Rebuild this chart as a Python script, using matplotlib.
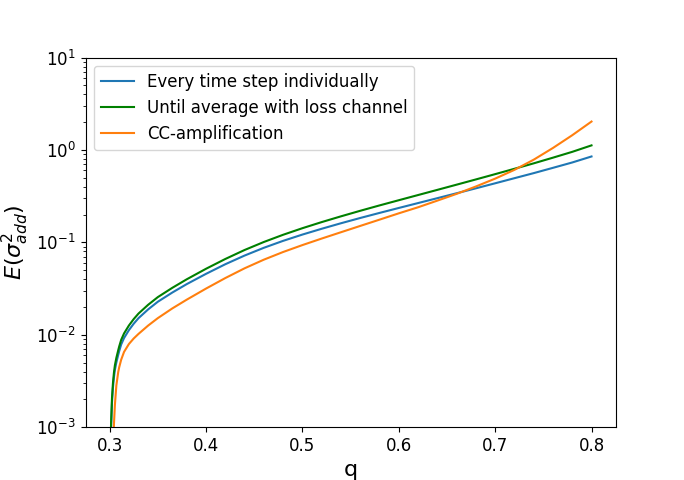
import numpy as np
import matplotlib.pyplot as plt

# q-Werte
q = [0.3005, 0.3015, 0.3025, 0.3035, 0.3045, 0.3055, 0.307, 0.309, 0.310, 0.312,
     0.315, 0.320, 0.325, 0.330, 0.340, 0.350, 0.365, 0.380, 0.400, 0.420,
     0.440, 0.460, 0.480, 0.500, 0.520, 0.540, 0.560, 0.580, 0.600, 0.620,
     0.640, 0.660, 0.680, 0.700, 0.720, 0.740, 0.760, 0.780, 0.800]

# Every time step individually
e_step = [2.24e-4, 9.55e-4, 1.86e-3, 2.69e-3, 3.47e-3, 4.17e-3, 5.01e-3, 6.10e-3, 6.68e-3, 7.85e-3,
          9.23e-3, 1.122e-2, 1.318e-2, 1.514e-2, 1.884e-2, 2.278e-2, 2.864e-2, 3.535e-2, 4.565e-2, 5.80e-2,
          7.20e-2, 8.74e-2, 0.1039, 0.1215, 0.1404, 0.1611, 0.1837, 0.2084, 0.2358, 0.2664,
          0.3010, 0.3402, 0.3848, 0.4362, 0.4952, 0.5618, 0.6412, 0.7328, 0.8511]

# Until average with loss channel
e_loss = [2.51e-4, 1.07e-3, 2.09e-3, 3.02e-3, 3.89e-3, 4.68e-3, 5.62e-3, 6.84e-3, 7.50e-3, 8.81e-3,
          1.035e-2, 1.259e-2, 1.479e-2, 1.698e-2, 2.113e-2, 2.556e-2, 3.221e-2, 3.985e-2, 5.18e-2, 6.61e-2,
          8.27e-2, 0.1010, 0.1209, 0.1424, 0.1658, 0.1914, 0.2198, 0.2512, 0.2860, 0.3254,
          0.3702, 0.4214, 0.4801, 0.5478, 0.6261, 0.7170, 0.826, 0.955, 1.122]

# CC-amplification
e_cc = [3.16e-5, 1.0e-4, 2.5e-4, 5.0e-4, 1.07e-3, 1.74e-3, 2.82e-3, 3.98e-3, 4.47e-3, 5.37e-3,
        6.53e-3, 7.94e-3, 9.12e-3, 1.023e-2, 1.259e-2, 1.514e-2, 1.928e-2, 2.399e-2, 3.162e-2, 4.11e-2,
        5.24e-2, 6.50e-2, 7.87e-2, 9.35e-2, 0.1100, 0.1288, 0.1507, 0.1762, 0.2063, 0.2399,
        0.2831, 0.3350, 0.4027, 0.4898, 0.6095, 0.7852, 1.052, 1.445, 2.032]

fig = plt.figure(figsize=(6.84, 4.8), dpi=100)
ax = fig.add_subplot(111)

ax.plot(q, e_step, color='tab:blue', label='Every time step individually')
ax.plot(q, e_loss, color='green', label='Until average with loss channel')
ax.plot(q, e_cc, color='tab:orange', label='CC-amplification')

ax.set_yscale('log')
ax.set_ylim(1e-3, 1e1)
ax.set_xlim(0.275, 0.825)
ax.set_xticks([0.3, 0.4, 0.5, 0.6, 0.7, 0.8])
ax.tick_params(labelsize=12)
ax.set_xlabel('q', fontsize=16)
ax.set_ylabel(r'$E(\sigma^2_{add})$', fontsize=16)
ax.legend(loc='upper left', fontsize=12)

plt.savefig('out.png')
